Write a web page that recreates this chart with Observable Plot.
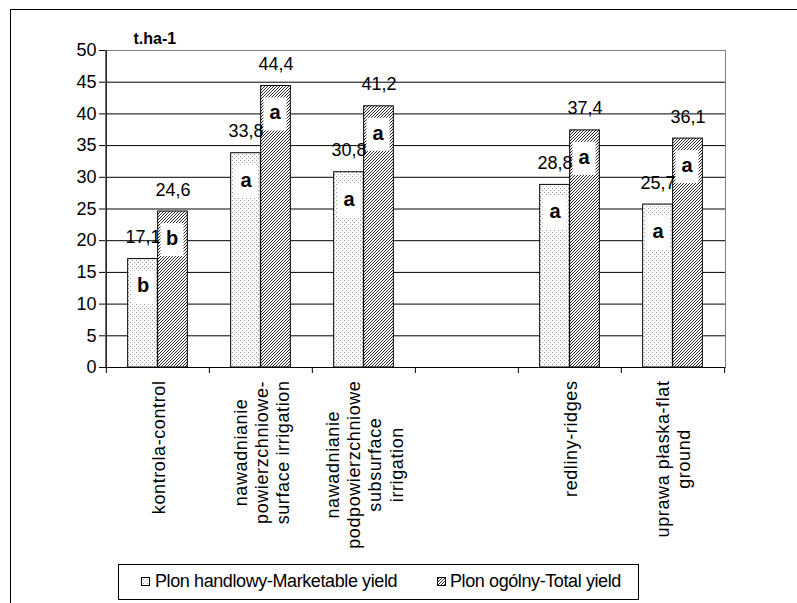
<!DOCTYPE html>
<html>
<head>
<meta charset="utf-8">
<script src="https://cdn.jsdelivr.net/npm/d3@7"></script>
<script src="https://cdn.jsdelivr.net/npm/@observablehq/plot@0.6"></script>
<style>
  html, body { margin: 0; padding: 0; background: #fff; }
  body { position: relative; width: 797px; height: 603px; overflow: hidden; font-family: "Liberation Sans", Arial, sans-serif; }
  #frame { position: absolute; left: 10px; top: 9px; width: 1000px; height: 1000px; border-top: 1px solid #000; border-left: 1px solid #000; }
  #chart { position: absolute; left: 0; top: 0; }
  #legend { position: absolute; left: 118px; top: 564px; width: 521px; height: 36px; box-sizing: border-box; border: 1px solid #000; background: #fff; }
  .sw { position: absolute; top: 12px; }
  .lt { position: absolute; top: 7px; font-size: 18px; line-height: 18px; letter-spacing: -0.4px; white-space: nowrap; color: #000; }
</style>
</head>
<body>
<div id="frame"></div>
<div id="chart"></div>
<div id="legend"></div>
<script>
// ---- data ----
const categories = [
  "kontrola-control",
  "nawadnianie\npowierzchniowe-\nsurface irrigation",
  "nawadnianie\npodpowierzchniowe\nsubsurface\nirrigation",
  " ",
  "redliny-ridges",
  "uprawa płaska-flat\nground"
];
const marketable = [17.1, 33.8, 30.8, null, 28.8, 25.7];
const total = [24.6, 44.4, 41.2, null, 37.4, 36.1];
const marketableGroups = ["b", "a", "a", null, "a", "a"];
const totalGroups = ["b", "a", "a", null, "a", "a"];
const yTicks = [0, 5, 10, 15, 20, 25, 30, 35, 40, 45, 50];
const seriesNames = ["Plon handlowy-Marketable yield", "Plon ogólny-Total yield"];
const unitLabel = "t.ha-1";

// ---- layout ----
const W = 797, H = 555, mL = 105, mR = 72, mT = 50, mB = 188;
const bw = (W - mL - mR) / categories.length;
const barW = 30;

const rowsM = categories.map((c, i) => ({cat: c, value: marketable[i], grp: marketableGroups[i]})).filter(d => d.value != null);
const rowsT = categories.map((c, i) => ({cat: c, value: total[i], grp: totalGroups[i]})).filter(d => d.value != null);
const fmt = v => v.toFixed(1).replace(".", ",");

const boxSymbol = {
  draw(ctx) {
    ctx.moveTo(-11.5, -16.5); ctx.lineTo(11.5, -16.5); ctx.lineTo(11.5, 16.5); ctx.lineTo(-11.5, 16.5); ctx.closePath();
  }
};

const svg = Plot.plot({
  width: W, height: H,
  marginLeft: mL, marginRight: mR, marginTop: mT, marginBottom: mB,
  style: {fontFamily: "'Liberation Sans', Arial, sans-serif", fontSize: "17px", background: "transparent", overflow: "visible", color: "#000"},
  x: {domain: categories, padding: 0},
  y: {domain: [0, 50]},
  marks: [
    Plot.gridY(yTicks, {stroke: "#000", strokeOpacity: 1}),
    Plot.frame({stroke: "#808080"}),
    Plot.barY(rowsM, {x: "cat", y: "value", fill: "url(#patM)", stroke: "#000", insetLeft: bw / 2 - barW, insetRight: bw / 2}),
    Plot.barY(rowsT, {x: "cat", y: "value", fill: "url(#patT)", stroke: "#000", insetLeft: bw / 2, insetRight: bw / 2 - barW}),
    Plot.ruleY([0], {stroke: "#000"}),
    Plot.ruleX([categories[0]], {dx: -bw / 2, stroke: "#000"}),
    Plot.ruleX(categories, {x: d => d, y1: 0, y2: 0, dx: -bw / 2, insetBottom: -6, stroke: "#000"}),
    Plot.ruleX([categories[categories.length - 1]], {x: d => d, y1: 0, y2: 0, dx: bw / 2, insetBottom: -6, stroke: "#000"}),
    Plot.axisY({ticks: yTicks, tickSize: 6, tickPadding: 3, fontSize: 18, label: null}),
    Plot.axisX({tickSize: 0, tickPadding: 13, tickRotate: -90, fontSize: 18, lineHeight: 1.18, label: null}),
    Plot.dot(rowsM, {x: "cat", y: "value", dx: -15, dy: 28, symbol: boxSymbol, r: 5, fill: "white", stroke: "none"}),
    Plot.dot(rowsT, {x: "cat", y: "value", dx: 14, dy: 28, symbol: boxSymbol, r: 5, fill: "white", stroke: "none"}),
    Plot.text(rowsM, {x: "cat", y: "value", dx: -15, dy: 27, text: "grp", fontWeight: "bold", fontSize: 20, lineAnchor: "middle"}),
    Plot.text(rowsT, {x: "cat", y: "value", dx: 14, dy: 27, text: "grp", fontWeight: "bold", fontSize: 20, lineAnchor: "middle"}),
    Plot.text(rowsM, {x: "cat", y: "value", dx: -15, dy: -16, text: d => fmt(d.value), fontSize: 18, lineAnchor: "bottom"}),
    Plot.text(rowsT, {x: "cat", y: "value", dx: 15, dy: -16, text: d => fmt(d.value), fontSize: 18, lineAnchor: "bottom"}),
    Plot.text([unitLabel], {frameAnchor: "top-left", dx: 28, dy: -7, lineAnchor: "bottom", textAnchor: "start", fontWeight: "bold", fontSize: 16})
  ]
});

document.getElementById("chart").appendChild(svg);

// patterns
const defs = d3.select(svg).insert("defs", ":first-child");
const pM = defs.append("pattern").attr("id", "patM").attr("patternUnits", "userSpaceOnUse").attr("width", 4).attr("height", 4);
pM.append("rect").attr("width", 4).attr("height", 4).attr("fill", "#fff");
pM.append("rect").attr("x", 0).attr("y", 0).attr("width", 1).attr("height", 1).attr("fill", "#999");
pM.append("rect").attr("x", 2).attr("y", 2).attr("width", 1).attr("height", 1).attr("fill", "#999");
const pT = defs.append("pattern").attr("id", "patT").attr("patternUnits", "userSpaceOnUse").attr("width", 3).attr("height", 3);
pT.append("rect").attr("width", 3).attr("height", 3).attr("fill", "#fff");
pT.append("path").attr("d", "M-1,1 L1,-1 M0,3 L3,0 M2,4 L4,2").attr("stroke", "#111").attr("stroke-width", 0.9);

// center-align multi-line category labels (Excel style)
d3.select(svg).selectAll("g[aria-label='x-axis tick label'] text").each(function() {
  const el = this;
  el.style.letterSpacing = "0.6px";
  const tspans = el.querySelectorAll("tspan");
  let maxW = 0;
  if (tspans.length) tspans.forEach(t => { maxW = Math.max(maxW, t.getComputedTextLength()); });
  else maxW = el.getComputedTextLength();
  el.setAttribute("text-anchor", "middle");
  const tr = el.getAttribute("transform") || "";
  el.setAttribute("transform", tr + ` translate(${-maxW / 2},0)`);
});

// legend
const legend = document.getElementById("legend");
const items = [{name: seriesNames[0], pat: "patM", sx: 22, tx: 36}, {name: seriesNames[1], pat: "patT", sx: 318, tx: 331}];
items.forEach(it => {
  const s = document.createElementNS("http://www.w3.org/2000/svg", "svg");
  s.setAttribute("class", "sw");
  s.setAttribute("width", 9); s.setAttribute("height", 9);
  s.style.left = it.sx + "px";
  const r = document.createElementNS("http://www.w3.org/2000/svg", "rect");
  r.setAttribute("x", 0.5); r.setAttribute("y", 0.5); r.setAttribute("width", 8); r.setAttribute("height", 8);
  r.setAttribute("fill", `url(#${it.pat})`); r.setAttribute("stroke", "#000");
  s.appendChild(r);
  legend.appendChild(s);
  const t = document.createElement("span");
  t.className = "lt"; t.style.left = it.tx + "px"; t.textContent = it.name;
  legend.appendChild(t);
});
</script>
</body>
</html>
